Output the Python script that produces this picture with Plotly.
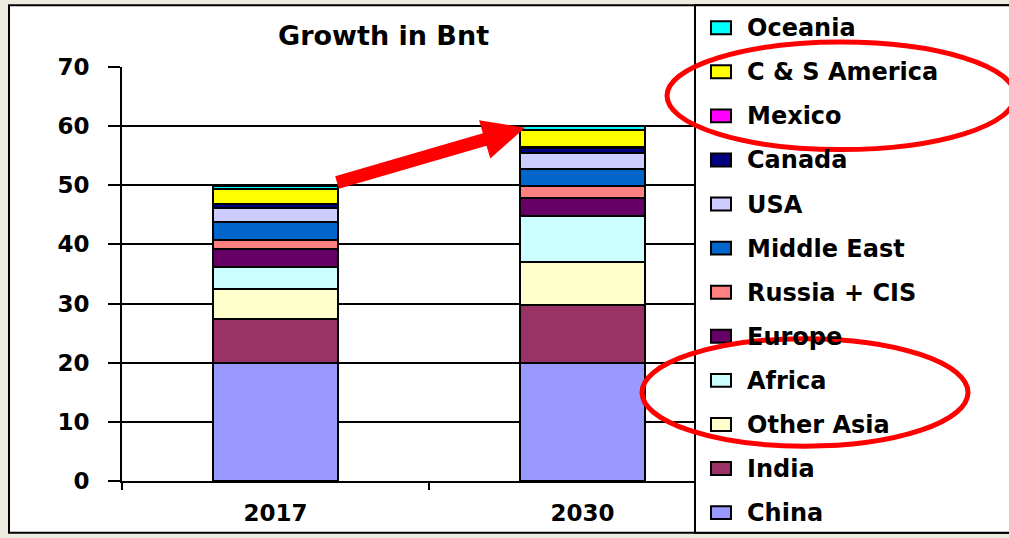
import plotly.graph_objects as go

# data (Bnt)
years = ["2017", "2030"]
china = [20.0, 20.0]
india = [7.4, 9.8]
other_asia = [5.0, 7.2]
africa = [3.7, 7.8]
europe = [3.1, 3.1]
russia_cis = [1.5, 1.9]
middle_east = [3.1, 3.0]
usa = [2.3, 2.7]
canada = [0.7, 0.8]
mexico = [0.1, 0.1]
cs_america = [2.5, 3.0]
oceania = [0.4, 0.6]

series = [
    ("China", china, "#9999FF"),
    ("India", india, "#993366"),
    ("Other Asia", other_asia, "#FFFFCC"),
    ("Africa", africa, "#CCFFFF"),
    ("Europe", europe, "#660066"),
    ("Russia + CIS", russia_cis, "#FF8080"),
    ("Middle East", middle_east, "#0066CC"),
    ("USA", usa, "#CCCCFF"),
    ("Canada", canada, "#000080"),
    ("Mexico", mexico, "#FF00FF"),
    ("C & S America", cs_america, "#FFFF00"),
    ("Oceania", oceania, "#00FFFF"),
]

W, H = 1009, 538
L, R, T, B = 122, 273, 67, 55
PW, PH = W - L - R, H - T - B
FONT = "DejaVu Sans"


def px(x):
    return (x - L) / PW


def py(y):
    return (H - B - y) / PH


fig = go.Figure()
for name, vals, col in series:
    fig.add_trace(go.Bar(
        x=years, y=vals, name=name,
        marker=dict(color=col, line=dict(color="black", width=2)),
        width=0.41,
    ))

shapes = []
# outer white frame
shapes.append(dict(type="rect", xref="paper", yref="paper", layer="below",
                   x0=px(9), x1=px(1015), y0=py(5), y1=py(535),
                   fillcolor="white", line=dict(color="black", width=2)))
# legend box
shapes.append(dict(type="rect", xref="paper", yref="paper", layer="above",
                   x0=px(695), x1=px(1015), y0=py(5), y1=py(535),
                   fillcolor="white", line=dict(color="black", width=2)))

annotations = []
# manual legend, top to bottom
row_y0, row_dy = 28, 44.3
for i, (name, vals, col) in enumerate(reversed(series)):
    cy = row_y0 + i * row_dy
    shapes.append(dict(type="rect", xref="paper", yref="paper", layer="above",
                       x0=px(711), x1=px(731), y0=py(cy + 6), y1=py(cy - 7),
                       fillcolor=col, line=dict(color="black", width=2)))
    annotations.append(dict(xref="paper", yref="paper", x=px(745), y=py(cy),
                            xanchor="left", yanchor="middle", showarrow=False,
                            text="<b>%s</b>" % name,
                            font=dict(family=FONT, size=24, color="black")))

# title
annotations.append(dict(xref="paper", yref="paper", x=px(383), y=py(35),
                        xanchor="center", yanchor="middle", showarrow=False,
                        text="<b>Growth in Bnt</b>",
                        font=dict(family=FONT, size=27, color="black")))

# red arrow (polygon)
tx, ty = 337, 183
hx, hy = 525, 128
dx, dy = hx - tx, hy - ty
ln = (dx * dx + dy * dy) ** 0.5
ux, uy = dx / ln, dy / ln
nx, ny = -uy, ux
sw, hw, hl = 6.5, 20, 42
nkx, nky = hx - ux * hl, hy - uy * hl
pts = [
    (tx + nx * sw, ty + ny * sw),
    (nkx + nx * sw, nky + ny * sw),
    (nkx + nx * hw, nky + ny * hw),
    (hx, hy),
    (nkx - nx * hw, nky - ny * hw),
    (nkx - nx * sw, nky - ny * sw),
    (tx - nx * sw, ty - ny * sw),
]
path = "M " + " L ".join("%f,%f" % (px(a), py(b)) for a, b in pts) + " Z"
shapes.append(dict(type="path", xref="paper", yref="paper", layer="above",
                   path=path, fillcolor="#FF0000", line=dict(width=0)))

# red ellipses
for cx, cy, rx, ry in [(841, 96, 174, 54), (805, 394, 163, 54)]:
    shapes.append(dict(type="circle", xref="paper", yref="paper", layer="above",
                       x0=px(cx - rx), x1=px(cx + rx), y0=py(cy + ry), y1=py(cy - ry),
                       line=dict(color="#FF0000", width=5)))

fig.update_layout(
    width=W, height=H,
    margin=dict(l=L, r=R, t=T, b=B, pad=0),
    barmode="stack",
    showlegend=False,
    paper_bgcolor="#EEECE1",
    plot_bgcolor="white",
    font=dict(family=FONT, color="black"),
    shapes=shapes,
    annotations=annotations,
    xaxis=dict(
        type="category", range=[-0.5, 1.5],
        showline=True, linecolor="black", linewidth=2,
        ticks="outside", tickson="boundaries", ticklen=7, tickwidth=2, tickcolor="black",
        showgrid=False,
        tickfont=dict(family=FONT, size=23, color="black"),
        tickprefix="<b>", ticksuffix="</b>",
        ticklabelstandoff=10,
    ),
    yaxis=dict(
        range=[0, 70], dtick=10,
        showline=True, linecolor="black", linewidth=2,
        ticks="outside", ticklen=12, tickwidth=2, tickcolor="black",
        showgrid=True, gridcolor="black", gridwidth=1.5,
        zeroline=False,
        tickfont=dict(family=FONT, size=23, color="black"),
        tickprefix="<b>", ticksuffix="</b>",
        ticklabelstandoff=14,
    ),
)

fig.write_html("out.html", config={"displayModeBar": False},
               post_script="document.body.style.margin='0px';")
